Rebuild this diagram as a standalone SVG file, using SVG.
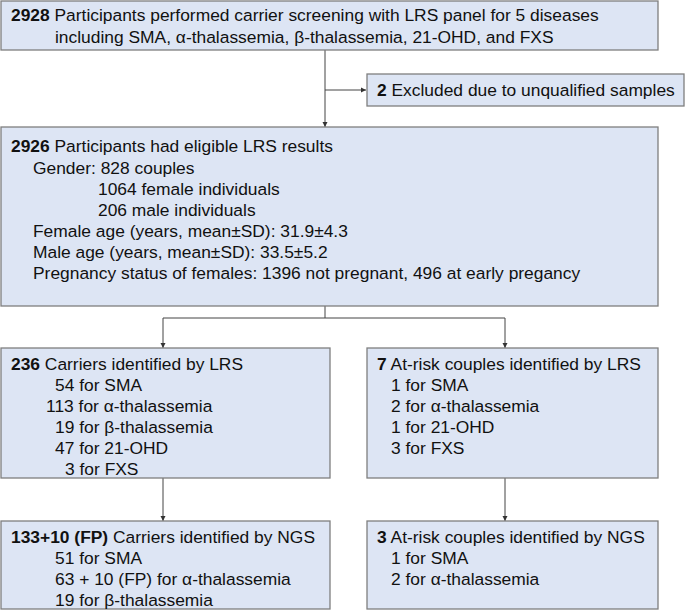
<svg xmlns="http://www.w3.org/2000/svg" width="685" height="610" viewBox="0 0 685 610">
<style>
.box{fill:#dde5f4;stroke:#7f7f7f;stroke-width:1.3}
text{font-family:"Liberation Sans",Arial,sans-serif;font-size:17.4px;fill:#111}
.b{font-weight:bold}
.c{stroke:#444;stroke-width:1;fill:none}
</style>
<defs><marker id="a" markerWidth="6" markerHeight="6" refX="5" refY="3" orient="auto" markerUnits="userSpaceOnUse"><path d="M0,0.5 L5,3 L0,5.5z" fill="#333"/></marker></defs>
<g id="connectors">
<path class="c" d="M325,50 V127" marker-end="url(#a)"/>
<path class="c" d="M325,90 H366" marker-end="url(#a)"/>
<path class="c" d="M325,306 V318 H505 V348" marker-end="url(#a)"/>
<path class="c" d="M325,318 H163 V348" marker-end="url(#a)"/>
<path class="c" d="M163,478 V521" marker-end="url(#a)"/>
<path class="c" d="M505,478 V521" marker-end="url(#a)"/>
</g>
<g id="n1"><rect class="box" x="1" y="1" width="657" height="49"/>
<text x="11" y="21"><tspan class="b">2928</tspan> Participants performed carrier screening with LRS panel for 5 diseases</text>
<text x="55" y="43">including SMA, α-thalassemia, β-thalassemia, 21-OHD, and FXS</text></g>
<g id="n2"><rect class="box" x="367" y="74" width="317" height="32"/>
<text x="377" y="96"><tspan class="b">2</tspan> Excluded due to unqualified samples</text></g>
<g id="n3"><rect class="box" x="1" y="127" width="657" height="179"/>
<text x="11" y="152"><tspan class="b">2926</tspan> Participants had eligible LRS results</text>
<text x="33" y="174">Gender: 828 couples</text>
<text x="98" y="195">1064 female individuals</text>
<text x="98" y="216">206 male individuals</text>
<text x="33" y="237">Female age (years, mean±SD): 31.9±4.3</text>
<text x="33" y="258">Male age (years, mean±SD): 33.5±5.2</text>
<text x="33" y="279">Pregnancy status of females: 1396 not pregnant, 496 at early pregancy</text></g>
<g id="n4"><rect class="box" x="1" y="348" width="329" height="130"/>
<text x="11" y="370"><tspan class="b">236</tspan> Carriers identified by LRS</text>
<text x="55" y="391">54 for SMA</text>
<text x="46" y="412">113 for α-thalassemia</text>
<text x="55" y="433">19 for β-thalassemia</text>
<text x="55" y="454">47 for 21-OHD</text>
<text x="65" y="475">3 for FXS</text></g>
<g id="n5"><rect class="box" x="367" y="348" width="291" height="130"/>
<text x="377" y="370"><tspan class="b">7</tspan> At-risk couples identified by LRS</text>
<text x="391" y="391">1 for SMA</text>
<text x="391" y="412">2 for α-thalassemia</text>
<text x="391" y="433">1 for 21-OHD</text>
<text x="391" y="454">3 for FXS</text></g>
<g id="n6"><rect class="box" x="1" y="521" width="329" height="88"/>
<text x="11" y="543"><tspan class="b">133+10 (FP)</tspan> Carriers identified by NGS</text>
<text x="55" y="564">51 for SMA</text>
<text x="55" y="585">63 + 10 (FP) for α-thalassemia</text>
<text x="55" y="606">19 for β-thalassemia</text></g>
<g id="n7"><rect class="box" x="367" y="521" width="291" height="88"/>
<text x="377" y="543"><tspan class="b">3</tspan> At-risk couples identified by NGS</text>
<text x="391" y="564">1 for SMA</text>
<text x="391" y="585">2 for α-thalassemia</text></g>
</svg>
